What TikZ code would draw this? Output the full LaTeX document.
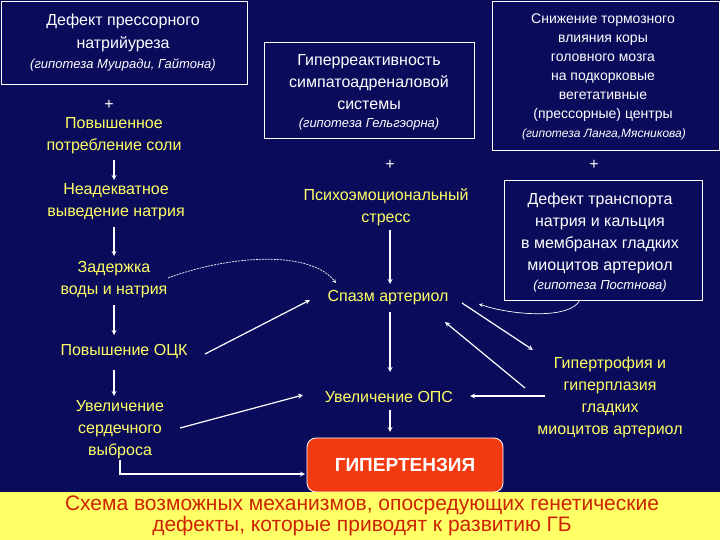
\documentclass[tikz,border=0pt]{standalone}
\usepackage{fontspec}
\setmainfont{Liberation Sans}
\begin{document}
\begin{tikzpicture}[x=1pt,y=-1pt,
  every node/.style={inner sep=0pt, align=center, font=\fontsize{16}{22}\selectfont},
  ytext/.style={text=yel},
  wht/.style={text=white},
  it/.style={text=white, font=\fontsize{13}{15}\selectfont\itshape},
  box/.style={draw=white, line width=0.8pt},
  arr/.style={draw=white, line width=1.2pt, -stealth},
  tarr/.style={draw=white, line width=0.7pt, -stealth}]
\definecolor{bg}{HTML}{0B0B5C}
\definecolor{yel}{HTML}{FFFF66}
\definecolor{hred}{HTML}{F23A10}
\definecolor{cred}{HTML}{CC2200}
\useasboundingbox (0,0) rectangle (720,540);
\fill[bg] (0,0) rectangle (720,540);
% boxes
\draw[box] (1,1) rectangle (247,84);
\node[wht] (b1a) at (123,21) {Дефект прессорного};
\node[wht] (b1b) at (123,44) {натрийуреза};
\node[it] (b1c) at (123,65) {(гипотеза Муиради, Гайтона)};
\draw[box] (264,42) rectangle (474,138);
\node[wht] (b2) at (369,82) {Гиперреактивность\\симпатоадреналовой\\системы};
\node[it] (b2c) at (369,124) {(гипотеза Гельгэорна)};
\draw[box] (492,1) rectangle (719,150);
\node[wht,font=\fontsize{14}{19}\selectfont] (b3) at (603,68) {Снижение тормозного\\влияния коры\\головного мозга\\на подкорковые\\вегетативные\\(прессорные) центры};
\node[it,font=\fontsize{12}{14}\selectfont\itshape] (b3c) at (604,134) {(гипотеза Ланга,Мясникова)};
\draw[box] (504,180) rectangle (702,300);
\node[wht] (b4) at (600,233) {Дефект транспорта\\натрия и кальция\\в мембранах гладких\\миоцитов артериол};
\node[it] (b4c) at (600,286) {(гипотеза Постнова)};
% left column
\node[wht] (p1) at (109,105) {+};
\node[ytext] (l1) at (114,136) {Повышенное\\потребление соли};
\node[ytext] (l2) at (116,202) {Неадекватное\\выведение натрия};
\node[ytext] (l3) at (114,280) {Задержка\\воды и натрия};
\node[ytext] (l4) at (124,352) {Повышение ОЦК};
\node[ytext] (l5) at (120,430) {Увеличение\\сердечного\\выброса};
% center
\node[wht] (p2) at (390,165) {+};
\node[ytext] (c1) at (386,207) {Психоэмоциональный\\стресс};
\node[ytext] (c2) at (388,298) {Спазм артериол};
\node[ytext] (c3) at (389,397) {Увеличение ОПС};
\node[wht] (p3) at (594,165) {+};
\node[ytext] (r1) at (610,397) {Гипертрофия и\\гиперплазия\\гладких\\миоцитов артериол};
\node[draw=white, line width=0.8pt, fill=hred, rounded corners=9pt, minimum width=196pt, minimum height=54pt, text=white, font=\fontsize{19}{20}\selectfont\bfseries] (h) at (405,465) {ГИПЕРТЕНЗИЯ};
% arrows
\draw[arr] (114,160) -- (114,180);
\draw[arr] (114,227) -- (114,256);
\draw[arr] (114,305) -- (114,335);
\draw[arr] (114,370) -- (114,396);
\draw[arr] (390,230) -- (390,284);
\draw[arr] (390,312) -- (390,372);
\draw[arr] (390,410) -- (390,432);
\draw[tarr, dash pattern=on 2pt off 1pt] (168,278) .. controls (230,255) and (310,250) .. (336,283);
\draw[arr] (205,354) -- (310,300);
\draw[arr] (462,303) -- (533,350);
\draw[arr] (525,388) -- (445,322);
\draw[tarr] (580,300) .. controls (570,320) and (510,315) .. (479,304);
\draw[arr] (545,396) -- (470,396);
\draw[arr] (180,428) -- (303,395);
\draw[arr] (120,460) -- (120,474) -- (305,474);
% bottom band
\fill[yel] (0,492) rectangle (720,540);
\node[text=cred, font=\fontsize{21}{21}\selectfont] (t) at (362,516) {Схема возможных механизмов, опосредующих генетические\\дефекты, которые приводят к развитию ГБ};
\end{tikzpicture}
\end{document}
